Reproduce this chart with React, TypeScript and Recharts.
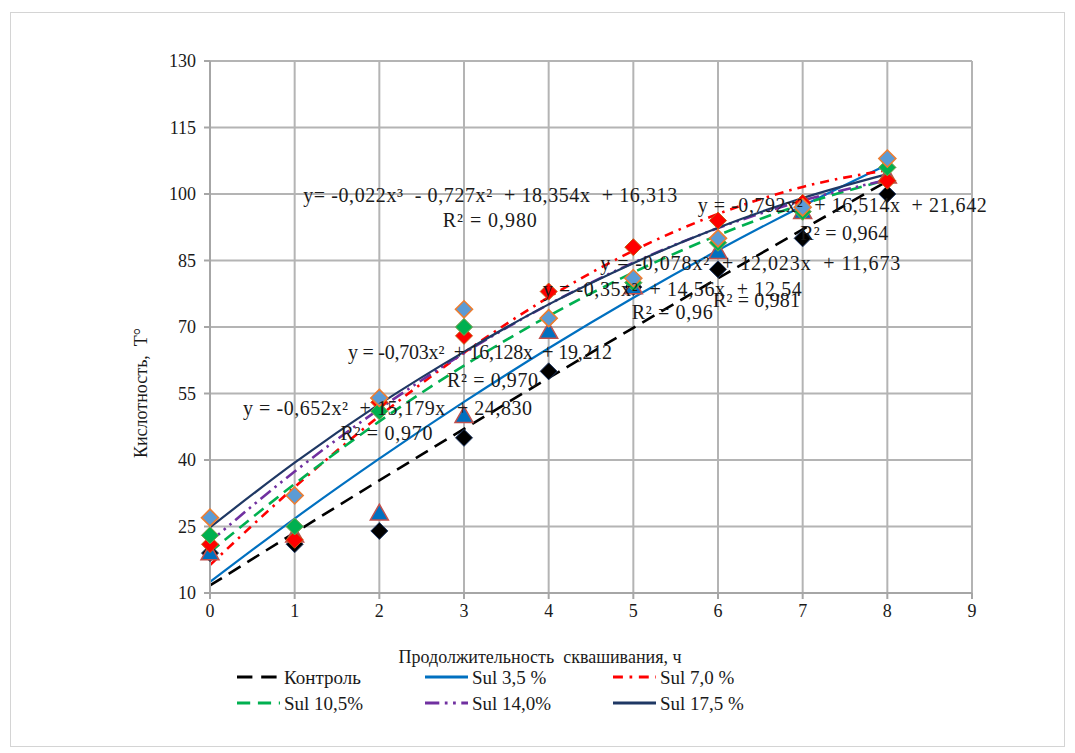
import React from 'react';
import { ComposedChart, Line, Scatter, XAxis, YAxis, CartesianGrid, ReferenceDot } from 'recharts';

// ---------- data ----------
const hours = [0, 1, 2, 3, 4, 5, 6, 7, 8];
const xTicks = [0, 1, 2, 3, 4, 5, 6, 7, 8, 9];
const yTicks = [10, 25, 40, 55, 70, 85, 100, 115, 130];

// observed points (markers)
const kontrolObs = [19, 21, 24, 45, 60, 79, 83, 90, 100];
const sul35Obs = [19, 23, 28, 50, 69, 79, 87, 96, 104];
const sul70Obs = [21, 22, 53, 68, 78, 88, 94, 98, 103];
const sul105Obs = [23, 25, 51, 70, 72, 80, 89, 96, 106];
const sul140Obs = [23, 25, 51, 70, 72, 80, 89, 96, 106];
const sul175Obs = [27, 32, 54, 74, 72, 81, 90, 97, 108];

// trend lines (values read at each hour)
const kontrolTrend = [11.7, 23.6, 35.4, 47.0, 58.5, 69.8, 81.0, 92.0, 102.9];
const sul35Trend = [12.5, 26.8, 40.3, 53.1, 65.2, 76.6, 87.3, 97.3, 106.6];
const sul70Trend = [16.3, 33.9, 49.9, 64.2, 76.7, 87.2, 95.5, 101.6, 105.4];
const sul105Trend = [19.2, 34.6, 48.7, 61.3, 72.5, 82.3, 90.7, 97.7, 103.2];
const sul140Trend = [21.6, 37.4, 51.5, 64.1, 75.1, 84.5, 92.3, 98.5, 103.2];
const sul175Trend = [24.8, 39.4, 52.6, 64.4, 75.1, 84.4, 92.4, 99.1, 104.5];

const seriesNames = ['Контроль', 'Sul 3,5 %', 'Sul 7,0 %', 'Sul 10,5%', 'Sul 14,0%', 'Sul 17,5 %'];

// trend equation annotations (anchored at data coordinates)
const equations = [
  { x: 1.1, y: 99.8, text: 'y= -0,022x³  - 0,727x²  + 18,354x  + 16,313' },
  { x: 2.75, y: 94.1, text: 'R² = 0,980' },
  { x: 5.76, y: 97.5, text: 'y = -0,792x²  + 16,514x  + 21,642' },
  { x: 6.97, y: 91.2, text: 'R² = 0,964' },
  { x: 4.61, y: 84.4, text: 'y = -0,078x²  + 12,023x  + 11,673' },
  { x: 5.94, y: 76.0, text: 'R² = 0,981' },
  { x: 3.93, y: 78.5, text: 'y = -0,35x²  + 14,56x  + 12,54' },
  { x: 4.98, y: 73.4, text: 'R² = 0,96' },
  { x: 1.63, y: 64.4, text: 'y = -0,703x²  + 16,128x  + 19,212' },
  { x: 2.8, y: 58.0, text: 'R² = 0,970' },
  { x: 0.39, y: 51.7, text: 'y = -0,652x²  + 15,179x  + 24,830' },
  { x: 1.54, y: 46.1, text: 'R² = 0,970' },
];
const equationWidths = [374, 94, 289, 88, 300, 87, 259, 81, 264, 91, 289, 92];

const xTitle = 'Продолжительность  сквашивания, ч';
const yTitle = 'Кислотность,  Т°';

// ---------- helpers ----------
const trendRows = hours.map((h, i) => ({
  x: h,
  kontrol: kontrolTrend[i],
  sul35: sul35Trend[i],
  sul70: sul70Trend[i],
  sul105: sul105Trend[i],
  sul140: sul140Trend[i],
  sul175: sul175Trend[i],
}));
const pts = (arr: number[]) => hours.map((h, i) => ({ x: h, y: arr[i] }));

const FONT = '"Liberation Serif", "Times New Roman", serif';

const diamond = (fill: string, stroke: string, sw: number) => (p: any) => {
  const { cx, cy } = p;
  if (cx == null || cy == null) return <g />;
  const r = 8.5;
  return (
    <polygon
      points={`${cx},${cy - r} ${cx + r},${cy} ${cx},${cy + r} ${cx - r},${cy}`}
      fill={fill}
      stroke={stroke}
      strokeWidth={sw}
    />
  );
};
const triangle = (fill: string, stroke: string) => (p: any) => {
  const { cx, cy } = p;
  if (cx == null || cy == null) return <g />;
  const r = 9;
  return (
    <polygon
      points={`${cx},${cy - r} ${cx + r},${cy + r * 0.75} ${cx - r},${cy + r * 0.75}`}
      fill={fill}
      stroke={stroke}
      strokeWidth={1.5}
    />
  );
};

const lineStyles = [
  { key: 'kontrol', color: '#000000', dash: '14 8', w: 2.6 },
  { key: 'sul35', color: '#0070C0', dash: undefined, w: 2.2 },
  { key: 'sul70', color: '#FF0000', dash: '9 6 2.5 6', w: 2.6 },
  { key: 'sul105', color: '#00B050', dash: '12 7', w: 2.6 },
  { key: 'sul140', color: '#7030A0', dash: '13 5 2.5 5 2.5 5', w: 2.6 },
  { key: 'sul175', color: '#1F3864', dash: undefined, w: 2.2 },
];

const textStyle = { fontFamily: FONT, whiteSpace: 'pre' as const };

const LegendBlock = () => {
  const cols = [226, 414, 602];
  const rows = [664, 690];
  return (
    <g>
      {seriesNames.map((name, i) => {
        const col = cols[i % 3];
        const row = rows[Math.floor(i / 3)];
        const st = lineStyles[i];
        return (
          <g key={name}>
            <line
              x1={col}
              x2={col + 43}
              y1={row}
              y2={row}
              stroke={st.color}
              strokeWidth={st.w + 0.6}
              strokeDasharray={st.dash ? st.dash.split(' ').map((v) => String(Number(v) * 1.1)).join(' ') : undefined}
            />
            <text
              x={col + 47}
              y={row}
              dominantBaseline="central"
              fontSize={19}
              fontFamily="Liberation Serif"
              fill="#1a1a1a"
              style={textStyle}
            >
              {name}
            </text>
          </g>
        );
      })}
    </g>
  );
};

export default function App() {
  return (
    <div style={{ paddingLeft: 2, paddingTop: 4 }}>
      <div
        style={{
          position: 'relative',
          width: 1053,
          height: 733,
          border: '1px solid #d4d4d4',
          background: '#ffffff',
        }}
      >
        <ComposedChart
          width={1053}
          height={733}
          data={trendRows}
          margin={{ top: 48, right: 92, bottom: 123, left: 109 }}
        >
          <CartesianGrid stroke="#b4b4b4" strokeWidth={2} />
          <XAxis
            dataKey="x"
            type="number"
            domain={[0, 9]}
            ticks={xTicks}
            interval={0}
            height={30}
            tickSize={6}
            tickMargin={5}
            axisLine={{ stroke: '#a6a6a6', strokeWidth: 2 }}
            tickLine={{ stroke: '#a6a6a6', strokeWidth: 2 }}
            tick={{ fontFamily: FONT, fontSize: 18, fill: '#1a1a1a' }}
          />
          <YAxis
            dataKey="y"
            type="number"
            domain={[10, 130]}
            ticks={yTicks}
            interval={0}
            width={90}
            tickSize={6}
            tickMargin={8}
            axisLine={{ stroke: '#a6a6a6', strokeWidth: 2 }}
            tickLine={{ stroke: '#a6a6a6', strokeWidth: 2 }}
            tick={{ fontFamily: FONT, fontSize: 18, fill: '#1a1a1a' }}
          />
          <Scatter data={pts(sul140Obs)} dataKey="y" shape={diamond('#7030A0', '#A5A5A5', 1)} isAnimationActive={false} />
          <Scatter data={pts(kontrolObs)} dataKey="y" shape={diamond('#000000', '#1F3864', 1)} isAnimationActive={false} />
          <Scatter data={pts(sul35Obs)} dataKey="y" shape={triangle('#0070C0', '#C0504D')} isAnimationActive={false} />
          <Scatter data={pts(sul70Obs)} dataKey="y" shape={diamond('#FF0000', '#C55A11', 1)} isAnimationActive={false} />
          <Scatter data={pts(sul105Obs)} dataKey="y" shape={diamond('#00B050', '#70AD47', 1)} isAnimationActive={false} />
          <Scatter data={pts(sul175Obs)} dataKey="y" shape={diamond('#5B9BD5', '#ED7D31', 1.6)} isAnimationActive={false} />
          {lineStyles.map((s) => (
            <Line
              key={s.key}
              dataKey={s.key}
              type="monotone"
              stroke={s.color}
              strokeWidth={s.w}
              strokeDasharray={s.dash}
              dot={false}
              activeDot={false}
              isAnimationActive={false}
            />
          ))}
          {equations.map((e, i) => (
            <ReferenceDot
              key={i}
              x={e.x}
              y={e.y}
              r={0}
              shape={(p: any) => (
                <text
                  x={p.cx}
                  y={p.cy}
                  dominantBaseline="central"
                  fontSize={20}
                  fill="#1a1a1a"
                  textLength={equationWidths[i]}
                  lengthAdjust="spacing"
                  style={textStyle}
                >
                  {e.text}
                </text>
              )}
            />
          ))}
        </ComposedChart>
        <svg
          width={1053}
          height={733}
          style={{ position: 'absolute', left: 0, top: 0, pointerEvents: 'none' }}
        >
          <text
            x={0}
            y={0}
            transform="translate(130 380) rotate(-90)"
            textAnchor="middle"
            dominantBaseline="central"
            fontSize={18}
            fill="#1a1a1a"
            style={textStyle}
          >
            {yTitle}
          </text>
          <text
            x={529}
            y={644}
            textAnchor="middle"
            dominantBaseline="central"
            fontSize={18}
            fill="#1a1a1a"
            style={textStyle}
          >
            {xTitle}
          </text>
          <LegendBlock />
        </svg>
      </div>
    </div>
  );
}
